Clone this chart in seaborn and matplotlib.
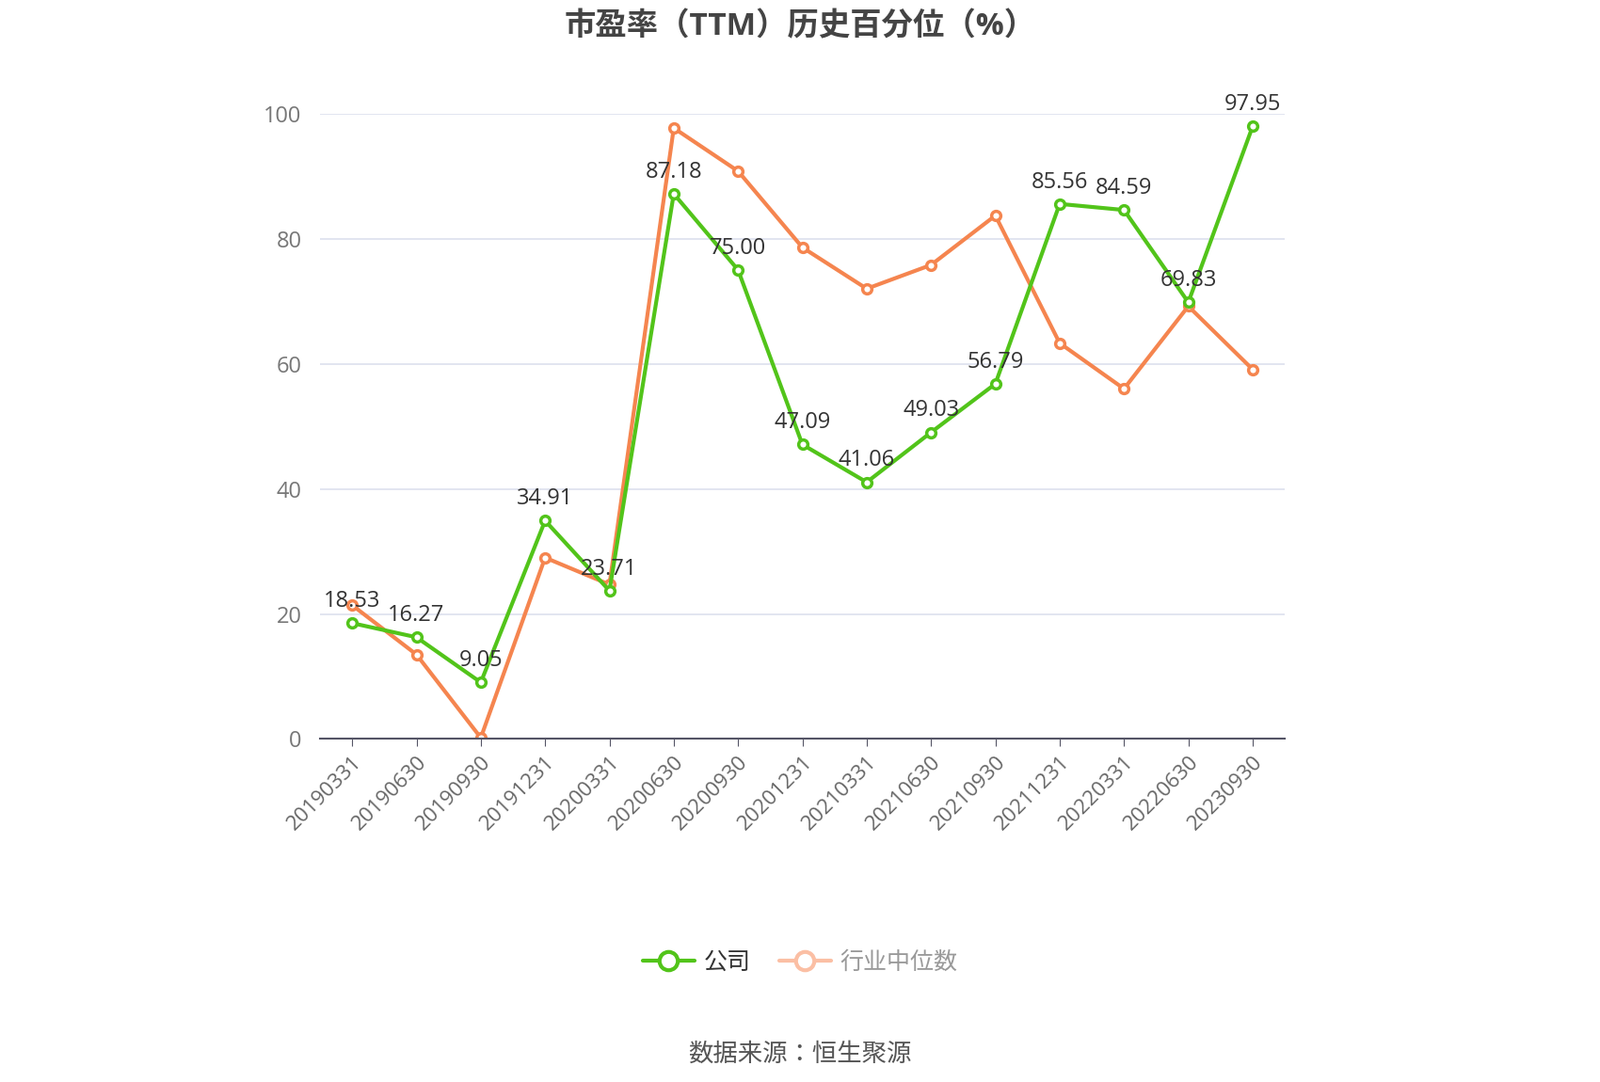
import matplotlib
matplotlib.use("Agg")
import matplotlib.pyplot as plt
from matplotlib import font_manager
import seaborn as sns
import pandas as pd
from matplotlib.lines import Line2D

# pick whatever CJK face matplotlib registered (ttc files report one name)
cjk = [f.name for f in font_manager.fontManager.ttflist if "CJK" in f.name]
cjk_pref = [n for n in ["Noto Sans CJK SC", "Noto Sans CJK JP", "Noto Sans CJK TC",
                        "Noto Sans CJK KR"] if n in cjk] or cjk[:1]
plt.rcParams["font.family"] = ["Open Sans"] + cjk_pref + ["DejaVu Sans"]

# data
dates = ["20190331", "20190630", "20190930", "20191231", "20200331", "20200630",
         "20200930", "20201231", "20210331", "20210630", "20210930", "20211231",
         "20220331", "20220630", "20230930"]
company = [18.53, 16.27, 9.05, 34.91, 23.71, 87.18, 75.00, 47.09, 41.06, 49.03,
           56.79, 85.56, 84.59, 69.83, 97.95]
industry = [21.4, 13.5, 0.2, 29.0, 24.7, 97.7, 90.8, 78.6, 72.0, 75.8, 83.7,
            63.3, 56.0, 69.2, 59.1]

GREEN = "#52c41a"
ORANGE = "#f5854f"

df = pd.DataFrame({"date": dates, "公司": company, "行业中位数": industry})
df["x"] = range(len(dates))

sns.set_style("white")
plt.rcParams["font.family"] = ["Open Sans"] + cjk_pref + ["DejaVu Sans"]
fig = plt.figure(figsize=(17, 11.5), dpi=100)
ax = fig.add_axes([0.2, 0.317, 0.603, 0.578])

sns.lineplot(data=df, x="x", y="公司", ax=ax, color=GREEN, lw=3, zorder=3,
             marker="o", markersize=7, markerfacecolor="white",
             markeredgecolor=GREEN, markeredgewidth=2.5)
sns.lineplot(data=df, x="x", y="行业中位数", ax=ax, color=ORANGE, lw=3, zorder=2,
             marker="o", markersize=7, markerfacecolor="white",
             markeredgecolor=ORANGE, markeredgewidth=2.5)

for i, v in enumerate(company):
    ax.annotate(f"{v:.2f}", (i, v), xytext=(0, 8), textcoords="offset points",
                ha="center", va="bottom", fontsize=17, color="#333333")

ax.set_xlim(-0.5, len(dates) - 0.5)
ax.set_ylim(0, 100)
ax.set_yticks(range(0, 101, 20))
ax.set_xticks(df["x"])
ax.set_xticklabels(dates, rotation=45, ha="right", rotation_mode="anchor",
                   fontsize=16, color="#666666")
ax.tick_params(axis="y", labelsize=17, labelcolor="#777777", length=0, pad=14)
ax.tick_params(axis="x", length=6, color="#555566", pad=4, bottom=True)
ax.set_xlabel("")
ax.set_ylabel("")
ax.grid(axis="y", color="#dde0ee", lw=1.2)
for s in ["top", "right", "left"]:
    ax.spines[s].set_visible(False)
ax.spines["bottom"].set_color("#555566")
ax.spines["bottom"].set_linewidth(1.5)

fig.text(0.5, 0.975, "市盈率（TTM）历史百分位（%）", ha="center", va="center",
         fontsize=24, fontweight="bold", color="#444444")

handles = [Line2D([], [], color=GREEN, lw=3, marker="o", markersize=14,
                  markerfacecolor="white", markeredgewidth=3),
           Line2D([], [], color="#fbbfa4", lw=3, marker="o", markersize=14,
                  markerfacecolor="white", markeredgewidth=3)]
leg = fig.legend(handles, ["公司", "行业中位数"], loc="center",
                 bbox_to_anchor=(0.5, 0.11), ncol=2, frameon=False,
                 fontsize=18, handlelength=2.2, columnspacing=1.2, handletextpad=0.4)
leg.get_texts()[1].set_color("#999999")
leg.get_texts()[0].set_color("#333333")

fig.text(0.5, 0.025, "数据来源：恒生聚源", ha="center", va="center",
         fontsize=19, color="#555555")

fig.savefig("out.png", dpi=100)
